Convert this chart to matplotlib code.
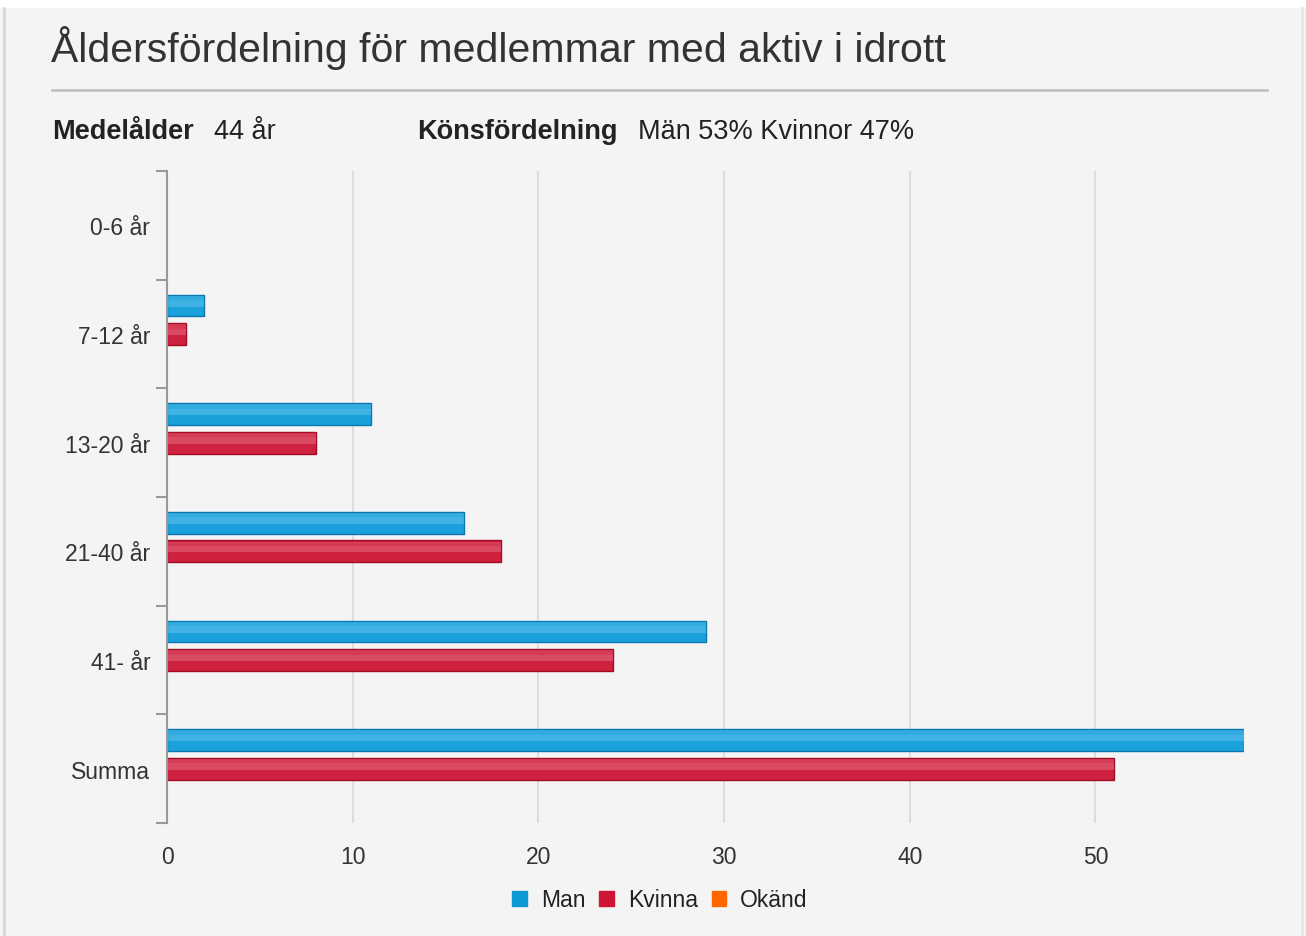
import numpy as np
import matplotlib
matplotlib.use('Agg')
import matplotlib.pyplot as plt
from matplotlib.patches import Rectangle

plt.rcParams['font.family'] = ['Liberation Sans', 'DejaVu Sans']

categories = ['0-6 år', '7-12 år', '13-20 år', '21-40 år', '41- år', 'Summa']
man = [0, 2, 11, 16, 29, 58]
kvinna = [0, 1, 8, 18, 24, 51]
okand = [0, 0, 0, 0, 0, 0]
xticks = [0, 10, 20, 30, 40, 50]

W, H = 1306, 937
fig = plt.figure(figsize=(W / 100, H / 100), dpi=100)
fig.patch.set_facecolor('#f4f4f4')


def fx(px):
    return px / W


def fy(py):
    return 1 - py / H


# white strip at top and thin frame lines
fig.patches.append(Rectangle((0, fy(9)), 1, 9 / H, transform=fig.transFigure,
                             facecolor='white', edgecolor='none', zorder=0))
fig.add_artist(plt.Line2D([fx(4), fx(4)], [0, fy(9)], transform=fig.transFigure,
                          color='#d6d6d6', lw=2))
fig.add_artist(plt.Line2D([fx(1302), fx(1302)], [0, fy(9)], transform=fig.transFigure,
                          color='#e6e6e6', lw=2))

# header
fig.text(fx(51), fy(48), 'Åldersfördelning för medlemmar med aktiv i idrott',
         fontsize=29.5, color='#333333', va='center', ha='left')
fig.add_artist(plt.Line2D([fx(52), fx(1267)], [fy(91), fy(91)], transform=fig.transFigure,
                          color='#bdbdbd', lw=1.8))
fig.text(fx(52), fy(132), 'Medelålder', fontsize=19.5, fontweight='bold', color='#222222', va='center')
fig.text(fx(214), fy(132), '44 år', fontsize=19.5, color='#222222', va='center')
fig.text(fx(417), fy(132), 'Könsfördelning', fontsize=19.5, fontweight='bold', color='#222222', va='center')
fig.text(fx(638), fy(132), 'Män 53% Kvinnor 47%', fontsize=19.5, color='#222222', va='center')

ax = fig.add_axes([fx(167), fy(824), fx(1244) - fx(167), (824 - 172) / H])
ax.set_facecolor('#f4f4f4')

y = np.arange(len(categories))
slot = 0.262
h = 0.2

series = [
    (man, -slot, '#1aa1db', '#0a78ae', '#6cc6ec'),
    (kvinna, 0.0, '#cf2140', '#a40c26', '#e77a8b'),
]
for vals, off, col, edge, light in series:
    lws = [1.0 if v > 0 else 0 for v in vals]
    ax.barh(y + off, vals, height=h, color=col, edgecolor=edge, linewidth=lws, zorder=3)
    # softer lighter upper part for a gradient look
    ax.barh(y + off - h * 0.2, vals, height=h * 0.5, color=light, alpha=0.3,
            edgecolor='none', linewidth=0, zorder=4)
    ax.barh(y + off - h * 0.1, vals, height=h * 0.3, color=light, alpha=0.25,
            edgecolor='none', linewidth=0, zorder=4)
ax.barh(y + slot, okand, height=h, color='#ff6600', linewidth=0, zorder=3)

ax.set_xlim(0, 58)
ax.set_ylim(len(categories) - 0.5, -0.5)
ax.set_xticks(xticks)
ax.set_xticklabels([str(t) for t in xticks])
ax.set_yticks(y)
ax.set_yticklabels(categories)
ax.set_yticks(np.arange(len(categories) + 1) - 0.5, minor=True)
ax.tick_params(axis='y', which='major', length=0, pad=12, labelsize=16.5, labelcolor='#333333')
ax.tick_params(axis='y', which='minor', length=8, width=1.5, color='#999999')
ax.tick_params(axis='x', length=0, pad=16, labelsize=16.5, labelcolor='#333333')

ax.grid(axis='x', color='#dddddd', lw=1.5, zorder=0)
for s in ['top', 'right', 'bottom']:
    ax.spines[s].set_visible(False)
ax.spines['left'].set_color('#999999')
ax.spines['left'].set_linewidth(1.5)
ax.spines['left'].set_zorder(5)

# legend
handles = [Rectangle((0, 0), 1, 1, color=c) for c in ['#0c9ad6', '#cf1534', '#ff6600']]
fig.legend(handles, ['Man', 'Kvinna', 'Okänd'], loc='center', bbox_to_anchor=(fx(660), fy(901)),
           ncol=3, frameon=False, fontsize=16.5, handlelength=0.65, handleheight=0.65,
           handletextpad=0.6, columnspacing=0.6, labelcolor='#222222')

fig.savefig('out.png', dpi=100, facecolor=fig.get_facecolor())
